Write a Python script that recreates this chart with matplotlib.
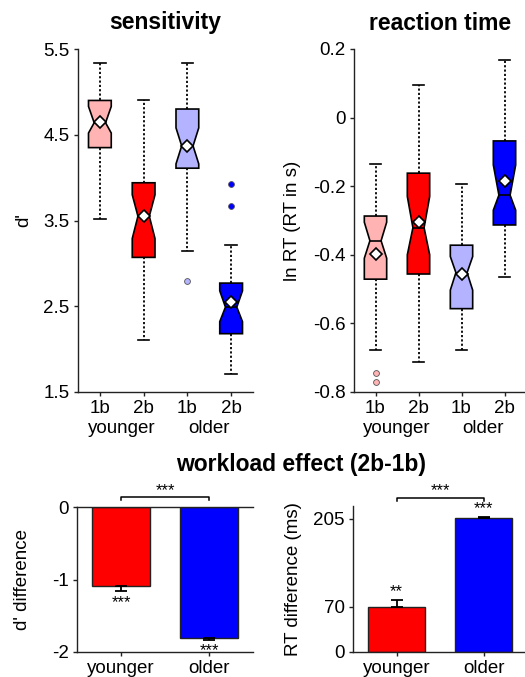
import matplotlib
matplotlib.use("Agg")
import matplotlib.pyplot as plt
import matplotlib.transforms as mtransforms

plt.rcParams['font.family'] = ['Liberation Sans', 'DejaVu Sans']
plt.rcParams['axes.unicode_minus'] = False

# ---------------- data ----------------
box_labels = ["1b", "2b", "1b", "2b"]
group_labels = ["younger", "older"]
box_colors = ["#FFB3B3", "#FF0000", "#B3B3FF", "#0000FF"]
bar_colors = ["#FF0000", "#0000FF"]

# sensitivity (d')
sens_q1 = [4.35, 3.07, 4.11, 2.18]
sens_med = [4.64, 3.55, 4.37, 2.49]
sens_q3 = [4.90, 3.94, 4.80, 2.77]
sens_lo = [3.52, 2.11, 3.14, 1.71]
sens_hi = [5.34, 4.90, 5.34, 3.22]
sens_mean = [4.65, 3.55, 4.37, 2.55]
sens_cilo = [4.52, 3.29, 4.16, 2.32]
sens_cihi = [4.83, 3.80, 4.58, 2.68]
sens_fliers = [[], [], [2.80], [3.92, 3.67]]
sens_ticks = [1.5, 2.5, 3.5, 4.5, 5.5]
sens_ticklabels = ["1.5", "2.5", "3.5", "4.5", "5.5"]

# reaction time (ln RT)
rt_q1 = [-0.471, -0.456, -0.557, -0.313]
rt_med = [-0.359, -0.321, -0.452, -0.226]
rt_q3 = [-0.287, -0.162, -0.372, -0.068]
rt_lo = [-0.678, -0.712, -0.678, -0.466]
rt_hi = [-0.136, 0.094, -0.193, 0.169]
rt_mean = [-0.398, -0.305, -0.456, -0.184]
rt_cilo = [-0.410, -0.400, -0.503, -0.270]
rt_cihi = [-0.305, -0.230, -0.405, -0.138]
rt_fliers = [[-0.746, -0.771], [], [], []]
rt_ticks = [-0.8, -0.6, -0.4, -0.2, 0.0, 0.2]
rt_ticklabels = ["-0.8", "-0.6", "-0.4", "-0.2", "0", "0.2"]

# workload effect (2b-1b)
dprime_diff = [-1.09, -1.81]
dprime_sem = [0.07, 0.02]
dprime_sig = ["***", "***"]
dprime_ticks = [-2, -1, 0]
rt_diff = [69, 206]
rt_sem = [11, 2]
rt_sig = ["**", "***"]
rt_diff_ticks = [0, 70, 205]
between_sig = "***"

# ---------------- layout ----------------
W, H = 525, 677
fig = plt.figure(figsize=(W / 100, H / 100), dpi=100)


def px(l, t, r, b):
    return [l / W, 1 - b / H, (r - l) / W, (b - t) / H]


TICK_FS = 13.5
TITLE_FS = 16.5
STAR_FS = 12


def style_axes(ax, top=False):
    for s in ["top", "right"]:
        ax.spines[s].set_visible(False)
    if top:
        ax.spines["top"].set_visible(True)
    for s in ax.spines.values():
        s.set_linewidth(1.0)
        s.set_color("#222222")
    ax.tick_params(direction="out", length=3, width=1.0, labelsize=TICK_FS,
                   color="#222222", pad=3)


def boxpanel(ax, q1, med, q3, lo, hi, mean, cilo, cihi, fliers):
    stats = []
    for i in range(len(q1)):
        stats.append(dict(q1=q1[i], med=med[i], q3=q3[i], whislo=lo[i],
                          whishi=hi[i], mean=mean[i], cilo=cilo[i],
                          cihi=cihi[i], fliers=fliers[i]))
    bp = ax.bxp(stats, positions=[1, 2, 3, 4], widths=0.52, shownotches=True,
                showmeans=True, patch_artist=True,
                boxprops=dict(edgecolor="black", linewidth=1.2),
                medianprops=dict(color="black", linewidth=1.2),
                whiskerprops=dict(color="black", linestyle=(0, (1.2, 1.2)),
                                  linewidth=1.3),
                capprops=dict(color="black", linewidth=1.2),
                meanprops=dict(marker="D", markerfacecolor="white",
                               markeredgecolor="black", markersize=6,
                               markeredgewidth=1.2),
                flierprops=dict(marker="o", markersize=4.2,
                                markeredgecolor="#555555",
                                markeredgewidth=0.6))
    for patch, c in zip(bp["boxes"], box_colors):
        patch.set_facecolor(c)
    for fl, c in zip(bp["fliers"], box_colors):
        fl.set_markerfacecolor(c)
    ax.set_xlim(0.5, 4.5)
    ax.set_xticks([1, 2, 3, 4])
    ax.set_xticklabels(box_labels)
    trans = mtransforms.blended_transform_factory(ax.transData, ax.transAxes)
    for xpos, g in zip([1.5, 3.5], group_labels):
        ax.annotate(g, xy=(xpos, 0), xycoords=trans, xytext=(0, -26),
                    textcoords="offset points", ha="center", va="center",
                    fontsize=TICK_FS)


# --- sensitivity ---
ax1 = fig.add_axes(px(78, 49, 253, 392))
style_axes(ax1)
boxpanel(ax1, sens_q1, sens_med, sens_q3, sens_lo, sens_hi, sens_mean,
         sens_cilo, sens_cihi, sens_fliers)
ax1.set_ylim(1.5, 5.5)
ax1.set_yticks(sens_ticks)
ax1.set_yticklabels(sens_ticklabels)
ax1.set_ylabel("d'", fontsize=TICK_FS, va="center")
ax1.yaxis.set_label_coords(-0.31, 0.5)
ax1.text(0.5, 1 + 26 / 343, "sensitivity", transform=ax1.transAxes,
         ha="center", va="center", fontsize=TITLE_FS, fontweight="bold")

# --- reaction time ---
ax2 = fig.add_axes(px(354, 49, 526, 392))
style_axes(ax2)
boxpanel(ax2, rt_q1, rt_med, rt_q3, rt_lo, rt_hi, rt_mean,
         rt_cilo, rt_cihi, rt_fliers)
ax2.set_ylim(-0.8, 0.2)
ax2.set_yticks(rt_ticks)
ax2.set_yticklabels(rt_ticklabels)
ax2.set_ylabel("ln RT (RT in s)", fontsize=TICK_FS, va="center")
ax2.yaxis.set_label_coords(-0.355, 0.5)
ax2.text(0.5, 1 + 26 / 343, "reaction time", transform=ax2.transAxes,
         ha="center", va="center", fontsize=TITLE_FS, fontweight="bold")

# --- suptitle for bottom row ---
fig.text(301 / W, 1 - 465 / H, "workload effect (2b-1b)", ha="center",
         va="center", fontsize=TITLE_FS, fontweight="bold")


def barpanel(ax, vals, sems, sigs, negative):
    pos = [1, 2]
    ax.bar(pos, vals, width=0.65, color=bar_colors, edgecolor="#222222",
           linewidth=1.0, zorder=2)
    if negative:
        yerr = [sems, [0] * len(sems)]
    else:
        yerr = [[0] * len(sems), sems]
    ax.errorbar(pos, vals, yerr=yerr, fmt="none", ecolor="black",
                elinewidth=1.3, capsize=4.5, capthick=1.3, zorder=3)
    for p, v, s, lab in zip(pos, vals, sems, sigs):
        end = v - s if negative else v + s
        off = -8 if negative else 6
        ax.annotate(lab, xy=(p, end), xytext=(0, off),
                    textcoords="offset points", ha="center", va="center",
                    fontsize=STAR_FS)
    ax.set_xlim(0.5, 2.5)
    ax.set_xticks(pos)
    ax.set_xticklabels(group_labels)


def bracket(ax, y_line, y_end, y_text, label):
    trans = mtransforms.blended_transform_factory(ax.transData, ax.transAxes)
    ax.plot([1, 1, 2, 2], [y_end, y_line, y_line, y_end], color="black",
            lw=1.1, transform=trans, clip_on=False)
    ax.text(1.5, y_text, label, transform=trans, ha="center", va="center",
            fontsize=STAR_FS)


# --- d' difference ---
ax3 = fig.add_axes(px(77, 507, 253, 652))
style_axes(ax3, top=True)
barpanel(ax3, dprime_diff, dprime_sem, dprime_sig, negative=True)
ax3.set_ylim(-2, 0)
ax3.set_yticks(dprime_ticks)
ax3.set_yticklabels([str(t) for t in dprime_ticks])
ax3.set_ylabel("d' difference", fontsize=TICK_FS, va="center")
ax3.yaxis.set_label_coords(-0.307, 0.5)
bracket(ax3, 1.069, 1.045, 1.11, between_sig)

# --- RT difference ---
ax4 = fig.add_axes(px(353, 506, 527, 652))
style_axes(ax4)
barpanel(ax4, rt_diff, rt_sem, rt_sig, negative=False)
ax4.set_ylim(0, 225)
ax4.set_yticks(rt_diff_ticks)
ax4.set_yticklabels([str(t) for t in rt_diff_ticks])
ax4.set_ylabel("RT difference (ms)", fontsize=TICK_FS, va="center")
ax4.yaxis.set_label_coords(-0.343, 0.5)
bracket(ax4, 1.055, 1.034, 1.105, between_sig)

fig.savefig("out.png", dpi=100)
